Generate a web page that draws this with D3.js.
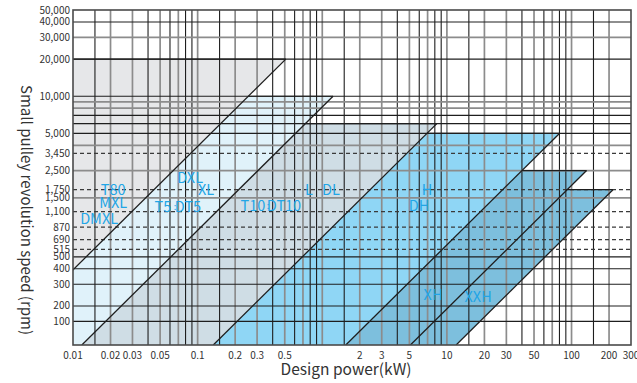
<!DOCTYPE html>
<html><head><meta charset="utf-8">
<script src="https://cdn.jsdelivr.net/npm/d3@7"></script>
<style>body{margin:0;background:#fff} svg{display:block}</style>
</head><body><svg id="c" width="637" height="383"></svg>
<script>
// ---------- data ----------
const xTickValues = [0.01,0.02,0.03,0.05,0.1,0.2,0.3,0.5,2,3,5,10,20,30,50,100,200,300];
const xTickLabels = ["0.01","0.02","0.03","0.05","0.1","0.2","0.3","0.5","2","3","5","10","20","30","50","100","200","300"];
// grid values at which the y labels are printed, and the printed texts
const yTickValues = [50000,40000,30000,20000,10000,5000,3450,2500,1750,1500,1160,870,690,575,500,400,300,200,150];
const yTickLabels = ["50,000","40,000","30,000","20,000","10,000","5,000","3,450","2,500","1,750","1,500","1,100","870","690","515","500","400","300","200","100"];
const xGridDecades = [0.01,0.1,1,10,100];
const xGridMultipliers = [1,1.5,2,3,4,5,6,7,8,9];
const xGridDark = [false,true,false,false,true,false,true,false,true,true];
const yGridSolid = [40000,30000,20000,10000,9000,8000,7000,6000,5000,4000,2500,1500,500,400,300,200,150];
const yGridSolidDark = [true,false,true,true,false,false,true,true,true,false,false,false,true,true,true,true,true];
const yGridDashed = [3450,1750,1160,870,690,575];

const regionNames   = ["T80/MXL/DMXL","DXL/XL/T5/DT5","T10/DT10/L/DL","H/DH","XH","XXH"];
const regionTopRpm  = [20000,10000,6000,5000,2500,1750];
const regionCornerKw= [0.51,1.22,8.3,80,132,215];
const regionColors  = ["#e6e7e9","#e0f2fa","#cfdde5","#8fd6f5","#7dbfdd","#7dbfdd"];

const labelTexts = ["T80","MXL","DMXL","DXL","XL","T5",":","DT5","T10",":","DT10","L","DL","H","DH","XH","XXH"];
const labelKw    = [0.021,0.021,0.0162,0.087,0.117,0.0527,0.0658,0.0837,0.278,0.367,0.493,0.783,1.175,6.92,5.97,7.74,17.8];
const labelRpm   = [1750,1365,1017,2176,1750,1267,1267,1267,1291,1291,1291,1750,1750,1750,1291,245,236];

// ---------- chart ----------
const svg = d3.select("#c");
const x = d3.scaleLog().domain([0.01,300]).range([73,631]);
const y = d3.scaleLog().domain([96.5,50000]).range([345,10]);
const [x0,x1] = x.range(), [y0,y1] = y.range();
const font = "'Noto Sans CJK SC','Noto Sans',sans-serif";

svg.append("defs").append("clipPath").attr("id","plot")
  .append("rect").attr("x",x0).attr("y",y1).attr("width",x1-x0).attr("height",y0-y1);

const g = svg.append("g").attr("clip-path","url(#plot)");
const nMin = y.domain()[0], pMin = x.domain()[0];

// regions: draw rightmost first
const order = d3.range(regionNames.length).reverse();
order.forEach(i=>{
  const t = regionTopRpm[i], c = regionCornerKw[i];
  const pts = [[pMin,t],[c,t],[c*nMin/t,nMin],[pMin,nMin]];
  g.append("path")
    .attr("d", d3.line().x(d=>x(d[0])).y(d=>y(d[1]))(pts)+"Z")
    .attr("fill", regionColors[i]);
});

// vertical grid
const xGrid = [];
xGridDecades.forEach(d=>xGridMultipliers.forEach((m,j)=>{
  const v = +(d*m).toPrecision(6);
  if (v>pMin && v<300) xGrid.push({v, dark:xGridDark[j]});
}));
g.selectAll(".vg").data(xGrid).join("line")
  .attr("x1",d=>x(d.v)).attr("x2",d=>x(d.v)).attr("y1",y1).attr("y2",y0)
  .attr("stroke",d=>d.dark?"#1e1e1e":"#8c8c8c")
  .attr("stroke-width",d=>d.dark?1.1:1.7);

// horizontal grid
g.selectAll(".hg").data(yGridSolid).join("line")
  .attr("x1",x0).attr("x2",x1).attr("y1",d=>y(d)).attr("y2",d=>y(d))
  .attr("stroke",(d,i)=>yGridSolidDark[i]?"#1e1e1e":"#8c8c8c")
  .attr("stroke-width",(d,i)=>yGridSolidDark[i]?1.1:1.7);
g.selectAll(".hd").data(yGridDashed).join("line")
  .attr("x1",x0).attr("x2",x1).attr("y1",d=>y(d)).attr("y2",d=>y(d))
  .attr("stroke","#3a3a3a").attr("stroke-width",1.2).attr("stroke-dasharray","4,3");

// region top edges and diagonals
regionNames.forEach((n,i)=>{
  const t = regionTopRpm[i], c = regionCornerKw[i];
  const start = i===0 ? pMin : regionCornerKw[i-1]*t/regionTopRpm[i-1];
  g.append("line").attr("x1",x(start)).attr("x2",x(c)).attr("y1",y(t)).attr("y2",y(t))
    .attr("stroke","#1e1e1e").attr("stroke-width",1.2);
  g.append("line").attr("x1",x(c)).attr("y1",y(t)).attr("x2",x(c*nMin/t)).attr("y2",y(nMin))
    .attr("stroke","#1e1e1e").attr("stroke-width",1.3);
});

// frame
svg.append("rect").attr("x",x0).attr("y",y1).attr("width",x1-x0).attr("height",y0-y1)
  .attr("fill","none").attr("stroke","#4a4a4a").attr("stroke-width",1.6);

// region labels
svg.selectAll(".lab").data(labelTexts).join("text")
  .attr("x",(d,i)=>x(labelKw[i])).attr("y",(d,i)=>y(labelRpm[i])).attr("dy","0.36em")
  .attr("text-anchor","middle").attr("font-family",font)
  .attr("font-size",(d)=>d===":"?9:14.5).attr("fill","#22a5e6")
  .text(d=>d);

// y tick labels
svg.selectAll(".yt").data(yTickValues).join("text")
  .attr("x",x0-3).attr("y",d=>y(d)).attr("dy","0.35em").attr("text-anchor","end")
  .attr("font-family",font).attr("font-size",10).attr("fill","#333")
  .text((d,i)=>yTickLabels[i]);

// x tick labels
svg.selectAll(".xt").data(xTickValues).join("text")
  .attr("x",d=>x(d)).attr("y",y0+10).attr("dy","0.35em").attr("text-anchor","middle")
  .attr("font-family",font).attr("font-size",10).attr("fill","#333")
  .text((d,i)=>xTickLabels[i]);

// axis titles
svg.append("text").attr("x",346).attr("y",375).attr("text-anchor","middle")
  .attr("font-family",font).attr("font-size",15.5).attr("fill","#333").text("Design power(kW)");
svg.append("text").attr("transform","translate(21,210) rotate(90)").attr("text-anchor","middle")
  .attr("font-family",font).attr("font-size",15).attr("fill","#333")
  .text("Small pulley revolution speed (rpm)");
</script></body></html>
